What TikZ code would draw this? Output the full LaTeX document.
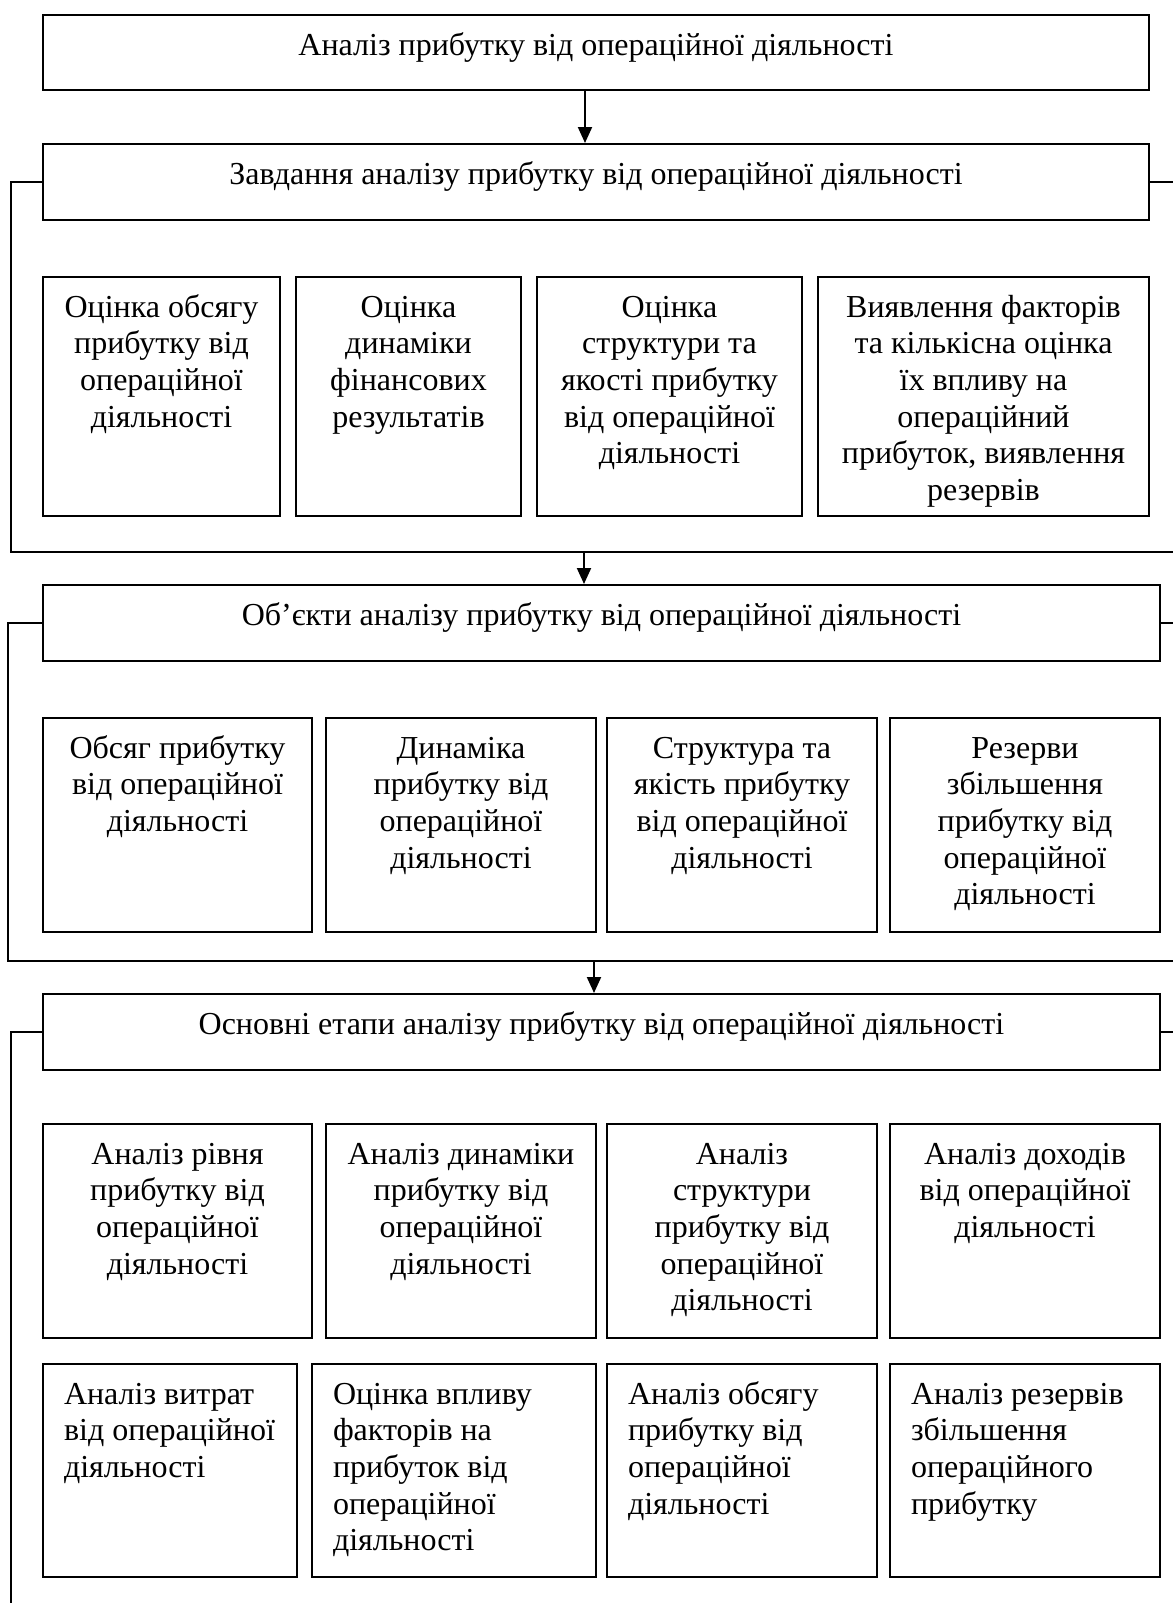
\documentclass[tikz,border=0pt]{standalone}
\usepackage{fontspec}
\setmainfont{Liberation Serif}
\usetikzlibrary{arrows.meta,calc}
\tikzset{
  boxst/.style={draw=black, line width=1pt, inner sep=0pt, anchor=north west,
    font=\fontsize{16pt}{18.35pt}\selectfont},
  ln/.style={draw=black, line width=1pt},
  arr/.style={draw=black, line width=1pt, -{Triangle[length=8pt,width=7pt]}}
}
\newcommand{\bnode}[7]{%
  \node[boxst] (#1) at (#2,#3)
   {\parbox[c][\dimexpr(#5pt-#3pt)/2\relax][t]{\dimexpr(#4pt-#2pt)/2\relax}{#6\rule{0pt}{20pt}#7}};}
\newcommand{\lft}{\raggedright\leftskip=10.5pt\relax}
\begin{document}
\begin{tikzpicture}[x=0.5pt,y=-0.5pt]
\useasboundingbox[fill=white] (0,0) rectangle (1173,1603);
\coordinate (R) at (1173,0);
% headers and boxes
\bnode{h0}{42}{14}{1148}{89}{\centering}{Аналіз прибутку від операційної діяльності}
\bnode{h1}{42}{143}{1148}{219}{\centering}{Завдання аналізу прибутку від операційної діяльності}
\bnode{t1}{42}{276}{279}{515}{\centering}{Оцінка обсягу\\прибутку від\\операційної\\діяльності}
\bnode{t2}{295}{276}{520}{515}{\centering}{Оцінка\\динаміки\\фінансових\\результатів}
\bnode{t3}{536}{276}{801}{515}{\centering}{Оцінка\\структури та\\якості прибутку\\від операційної\\діяльності}
\bnode{t4}{817}{276}{1148}{515}{\centering}{Виявлення факторів\\та кількісна оцінка\\їх впливу на\\операційний\\прибуток, виявлення\\резервів}
\bnode{h2}{42}{584}{1159}{660}{\centering}{Об’єкти аналізу прибутку від операційної діяльності}
\bnode{o1}{42}{717}{311}{931}{\centering}{Обсяг прибутку\\від операційної\\діяльності}
\bnode{o2}{325}{717}{595}{931}{\centering}{Динаміка\\прибутку від\\операційної\\діяльності}
\bnode{o3}{606}{717}{876}{931}{\centering}{Структура та\\якість прибутку\\від операційної\\діяльності}
\bnode{o4}{889}{717}{1159}{931}{\centering}{Резерви\\збільшення\\прибутку від\\операційної\\діяльності}
\bnode{h3}{42}{993}{1159}{1069}{\centering}{Основні етапи аналізу прибутку від операційної діяльності}
\bnode{s1}{42}{1123}{311}{1337}{\centering}{Аналіз рівня\\прибутку від\\операційної\\діяльності}
\bnode{s2}{325}{1123}{595}{1337}{\centering}{Аналіз динаміки\\прибутку від\\операційної\\діяльності}
\bnode{s3}{606}{1123}{876}{1337}{\centering}{Аналіз\\структури\\прибутку від\\операційної\\діяльності}
\bnode{s4}{889}{1123}{1159}{1337}{\centering}{Аналіз доходів\\від операційної\\діяльності}
\bnode{r1}{42}{1363}{296}{1576}{\lft}{Аналіз витрат\\від операційної\\діяльності}
\bnode{r2}{311}{1363}{595}{1576}{\lft}{Оцінка впливу\\факторів на\\прибуток від\\операційної\\діяльності}
\bnode{r3}{606}{1363}{876}{1576}{\lft}{Аналіз обсягу\\прибутку від\\операційної\\діяльності}
\bnode{r4}{889}{1363}{1159}{1576}{\lft}{Аналіз резервів\\збільшення\\операційного\\прибутку}
% brackets
\draw[ln] (h1.west) -| (11,552) -- (1173,552);
\draw[ln] (h1.east) -- (h1.east -| R);
\draw[ln] (h2.west) -| (8,961) -- (1173,961);
\draw[ln] (h2.east) -- (h2.east -| R);
\draw[ln] (h3.west) -| (11,1603);
\draw[ln] (h3.east) -- (h3.east -| R);
\coordinate (b1) at (584,552);
\coordinate (b2) at (594,961);
% arrows
\draw[arr] ($(h0.south)+(-11,0)$) -- ($(h1.north)+(-11,0)$);
\draw[arr] (b1) -- (b1 |- h2.north);
\draw[arr] (b2) -- (b2 |- h3.north);
\end{tikzpicture}
\end{document}
